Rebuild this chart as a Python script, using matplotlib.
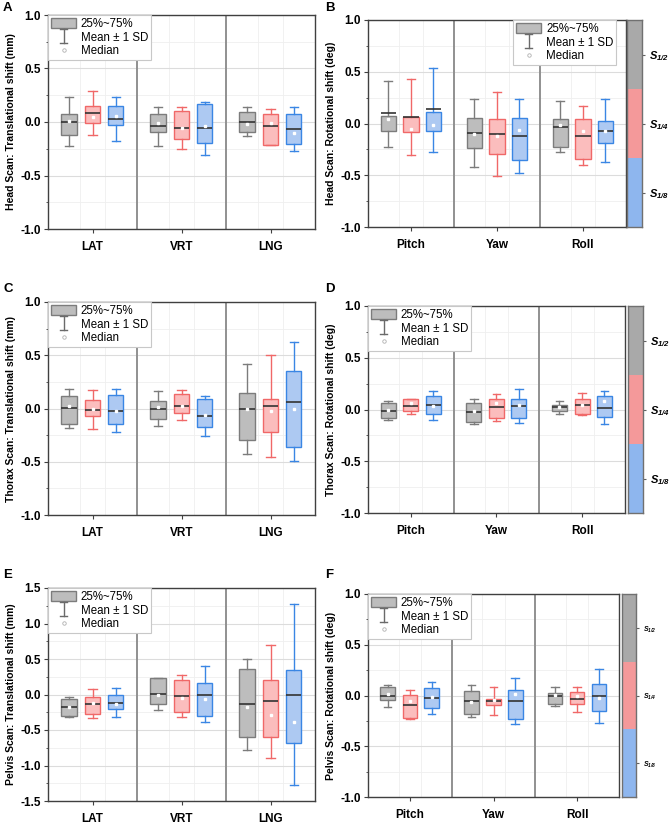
import matplotlib
matplotlib.use('Agg')
import matplotlib.pyplot as plt
from matplotlib.patches import Patch
from matplotlib.lines import Line2D
from matplotlib.legend_handler import HandlerBase
from matplotlib.ticker import MultipleLocator, FormatStrFormatter

plt.rcParams['font.family'] = ['Liberation Sans', 'DejaVu Sans']
plt.rcParams['mathtext.fontset'] = 'custom'
plt.rcParams['mathtext.rm'] = 'Liberation Sans:bold:italic'
plt.rcParams['mathtext.it'] = 'Liberation Sans:bold:italic'
plt.rcParams['mathtext.bf'] = 'Liberation Sans:bold:italic'

# series: S1/2 (grey), S1/4 (red), S1/8 (blue)
series_names = [r'$S_{1/2}$', r'$S_{1/4}$', r'$S_{1/8}$']
trans_cats = ['LAT', 'VRT', 'LNG']
rot_cats = ['Pitch', 'Yaw', 'Roll']

# rows = series, columns = categories
# A: head scan, translational
a_top = [[0.235, 0.14, 0.14], [0.29, 0.14, 0.126], [0.23, 0.19, 0.14]]
a_q3 = [[0.073, 0.073, 0.089], [0.15, 0.105, 0.073], [0.145, 0.167, 0.079]]
a_mid = [[0.0, -0.042, 0.0], [0.08, -0.055, -0.039], [0.03, -0.052, -0.066]]
a_q1 = [[-0.123, -0.095, -0.096], [-0.01, -0.155, -0.213], [-0.026, -0.197, -0.204]]
a_bot = [[-0.222, -0.224, -0.135], [-0.12, -0.25, -0.213], [-0.18, -0.305, -0.273]]
a_dot = [[0.005, -0.012, -0.015], [0.05, -0.06, -0.006], [0.06, -0.042, -0.102]]

# B: head scan, rotational
b_top = [[0.41, 0.24, 0.216], [0.426, 0.30, 0.168], [0.54, 0.232, 0.24]]
b_q3 = [[0.07, 0.055, 0.045], [0.065, 0.048, 0.039], [0.112, 0.055, 0.023]]
b_mid = [[0.097, -0.09, -0.03], [0.065, -0.103, -0.116], [0.136, -0.12, -0.068]]
b_q1 = [[-0.072, -0.232, -0.226], [-0.08, -0.29, -0.342], [-0.075, -0.348, -0.187]]
b_bot = [[-0.23, -0.416, -0.28], [-0.30, -0.503, -0.397], [-0.275, -0.474, -0.371]]
b_dot = [[0.039, -0.103, -0.013], [-0.055, -0.12, -0.068], [-0.016, -0.061, -0.068]]

# C: thorax scan, translational
c_top = [[0.18, 0.16, 0.414], [0.17, 0.17, 0.505], [0.18, 0.122, 0.62]]
c_q3 = [[0.113, 0.069, 0.141], [0.078, 0.132, 0.085], [0.125, 0.085, 0.348]]
c_mid = [[0.003, -0.006, -0.009], [-0.01, 0.028, 0.022], [-0.019, -0.072, 0.063]]
c_q1 = [[-0.141, -0.097, -0.298], [-0.066, -0.038, -0.216], [-0.15, -0.176, -0.357]]
c_bot = [[-0.179, -0.166, -0.429], [-0.194, -0.11, -0.458], [-0.223, -0.26, -0.492]]
c_dot = [[0.025, 0.013, 0.0], [0.0, 0.028, -0.019], [-0.019, -0.06, 0.0]]

# D: thorax scan, rotational
d_top = [[0.084, 0.097, 0.084], [0.103, 0.152, 0.155], [0.18, 0.194, 0.177]]
d_q3 = [[0.058, 0.058, 0.042], [0.103, 0.106, 0.106], [0.129, 0.097, 0.126]]
d_mid = [[-0.01, -0.026, 0.023], [0.032, 0.023, 0.048], [0.045, 0.029, 0.019]]
d_q1 = [[-0.08, -0.116, -0.013], [-0.013, -0.084, -0.045], [-0.045, -0.084, -0.071]]
d_bot = [[-0.106, -0.142, -0.045], [-0.045, -0.113, -0.055], [-0.097, -0.132, -0.139]]
d_dot = [[0.0, -0.013, 0.02], [0.065, 0.058, 0.048], [0.035, 0.045, 0.081]]

# E: pelvis scan, translational
e_top = [[-0.033, 0.239, 0.50], [0.075, 0.277, 0.693], [0.094, 0.398, 1.27]]
e_q3 = [[-0.061, 0.23, 0.366], [-0.033, 0.211, 0.211], [0.0, 0.155, 0.35]]
e_mid = [[-0.173, 0.009, -0.137], [-0.127, -0.028, -0.098], [-0.113, 0.0, 0.0]]
e_q1 = [[-0.305, -0.131, -0.596], [-0.277, -0.244, -0.60], [-0.211, -0.309, -0.69]]
e_bot = [[-0.314, -0.22, -0.788], [-0.333, -0.323, -0.90], [-0.314, -0.389, -1.276]]
e_dot = [[-0.17, -0.014, -0.174], [-0.117, -0.052, -0.287], [-0.127, -0.066, -0.385]]

# F: pelvis scan, rotational
f_top = [[0.10, 0.104, 0.081], [0.051, 0.081, 0.087], [0.137, 0.17, 0.259]]
f_q3 = [[0.087, 0.044, 0.028], [0.005, -0.035, 0.035], [0.077, 0.051, 0.114]]
f_mid = [[-0.005, -0.058, -0.005], [-0.09, -0.054, -0.035], [-0.028, -0.058, -0.008]]
f_q1 = [[-0.048, -0.183, -0.084], [-0.219, -0.094, -0.084], [-0.127, -0.229, -0.157]]
f_bot = [[-0.11, -0.212, -0.1], [-0.232, -0.193, -0.16], [-0.183, -0.285, -0.275]]
f_dot = [[0.012, -0.064, 0.005], [-0.051, -0.048, 0.0], [-0.012, 0.012, -0.021]]

box_fill = ['#bdbdbd', '#fbbdbd', '#adc9f2']
box_edge = ['#7c7c7c', '#f06868', '#3a86e4']
cbar_cols = ['#a9a9a9', '#f4999a', '#8eb6ee']
offsets = [-0.265, 0.0, 0.26]

W, H = 669, 827


def rect(l, t, r, b):
    return [l / W, 1 - b / H, (r - l) / W, (b - t) / H]


class IBarHandler(HandlerBase):
    def create_artists(self, legend, orig_handle, xdescent, ydescent, width, height, fontsize, trans):
        cx = -xdescent + width * 0.5
        y0 = -ydescent - 0.1 * height
        y1 = -ydescent + 1.3 * height
        cw = width * 0.14
        arts = [Line2D([cx, cx], [y0, y1]), Line2D([cx - cw, cx + cw], [y0, y0]),
                Line2D([cx - cw, cx + cw], [y1, y1])]
        for a in arts:
            a.set_color('#6a6a6a')
            a.set_linewidth(1.0)
            a.set_transform(trans)
        return arts


def draw_panel(ax, cats, top, q3, mid, q1, bot, dot, ylim, ylabel, leg_anchor, leg_loc):
    for s in range(3):
        stats = []
        for c in range(3):
            stats.append(dict(med=mid[s][c], q1=q1[s][c], q3=q3[s][c], whislo=bot[s][c],
                              whishi=top[s][c], mean=dot[s][c], fliers=[]))
        pos = [c + 0.5 + offsets[s] for c in range(3)]
        ax.bxp(stats, positions=pos, widths=0.175, capwidths=0.09, patch_artist=True,
               showmeans=True, showfliers=False, manage_ticks=False,
               boxprops=dict(facecolor=box_fill[s], edgecolor=box_edge[s], linewidth=1.0),
               whiskerprops=dict(color=box_edge[s], linewidth=1.0),
               capprops=dict(color=box_edge[s], linewidth=1.0),
               medianprops=dict(color='#333333', linewidth=1.2),
               meanprops=dict(marker='s', markersize=1.6, markerfacecolor='white',
                              markeredgecolor='white'),
               zorder=3)

    for x in [1, 2]:
        ax.axvline(x, color='#909090', lw=1.4, zorder=2)

    ax.set_xlim(0, 3)
    ax.set_ylim(*ylim)
    ax.set_xticks([0.5, 1.5, 2.5])
    ax.set_xticklabels(cats, fontweight='bold', fontsize=8.5)
    ax.set_xticks([c + 0.5 + d for c in range(3) for d in (-0.135, 0.135)], minor=True)
    ax.yaxis.set_major_locator(MultipleLocator(0.5))
    ax.yaxis.set_minor_locator(MultipleLocator(0.25))
    ax.yaxis.set_major_formatter(FormatStrFormatter('%.1f'))
    for lab in ax.get_yticklabels():
        lab.set_fontweight('bold')
        lab.set_fontsize(8.5)
    ax.grid(True, which='major', axis='y', color='#dcdcdc', lw=0.8, zorder=0)
    ax.grid(True, which='minor', axis='y', color='#efefef', lw=0.6, zorder=0)
    ax.grid(True, which='minor', axis='x', color='#efefef', lw=0.6, zorder=0)
    ax.set_axisbelow(True)
    ax.tick_params(axis='x', which='major', length=3, direction='out', pad=6, color='#404040')
    ax.tick_params(axis='x', which='minor', length=0)
    ax.tick_params(axis='y', which='major', length=3, direction='out', pad=2, color='#404040')
    ax.tick_params(axis='y', which='minor', length=1.5, direction='out', color='#404040')
    for sp in ax.spines.values():
        sp.set_color('#404040')
        sp.set_linewidth(1.0)
    ax.set_ylabel(ylabel, fontweight='bold', fontsize=7.5, labelpad=3)

    handles = [Patch(facecolor='#bdbdbd', edgecolor='#7c7c7c', lw=1.0), 'ibar',
               Line2D([], [], ls='none', marker='o', markersize=2.5, markerfacecolor='white',
                      markeredgecolor='#b0b0b0', markeredgewidth=0.6)]
    leg = ax.legend(handles, ['25%~75%', 'Mean \u00b1 1 SD', 'Median'], loc=leg_loc,
                    bbox_to_anchor=leg_anchor, fontsize=8.3, frameon=True, fancybox=False,
                    framealpha=1, edgecolor='#c8c8c8', borderaxespad=0, borderpad=0.25,
                    labelspacing=0.15, handlelength=2.2, handleheight=0.95, handletextpad=0.4,
                    handler_map={str: IBarHandler()})
    leg.get_frame().set_linewidth(0.8)
    leg.set_zorder(5)


def draw_cbar(cax, fs):
    for i in range(3):
        cax.axhspan(2 - i, 3 - i, color=cbar_cols[i], lw=0)
    cax.set_ylim(0, 3)
    cax.set_xlim(0, 1)
    cax.set_xticks([])
    cax.yaxis.tick_right()
    cax.set_yticks([2.5, 1.5, 0.5])
    cax.set_yticklabels(series_names, fontsize=fs)
    cax.tick_params(axis='y', length=2.5, pad=2.5, color='#606060')
    for sp in cax.spines.values():
        sp.set_color('#707070')
        sp.set_linewidth(1.0)


fig = plt.figure(figsize=(W / 100, H / 100), dpi=100)

ax_a = fig.add_axes(rect(48, 15, 315, 229))
ax_b = fig.add_axes(rect(368, 20, 626, 227))
cb_b = fig.add_axes(rect(627, 20, 642, 227))
ax_c = fig.add_axes(rect(48, 302, 315, 515))
ax_d = fig.add_axes(rect(368, 306, 625, 513))
cb_d = fig.add_axes(rect(628, 306, 643, 513))
ax_e = fig.add_axes(rect(48, 588, 315, 801))
ax_f = fig.add_axes(rect(368, 594, 619, 797))
cb_f = fig.add_axes(rect(622, 594, 636, 797))

draw_panel(ax_a, trans_cats, a_top, a_q3, a_mid, a_q1, a_bot, a_dot, (-1, 1),
           'Head Scan: Translational shift (mm)', (0, 1), 'upper left')
draw_panel(ax_b, rot_cats, b_top, b_q3, b_mid, b_q1, b_bot, b_dot, (-1, 1),
           'Head Scan: Rotational shift (deg)', (0.962, 1), 'upper right')
draw_panel(ax_c, trans_cats, c_top, c_q3, c_mid, c_q1, c_bot, c_dot, (-1, 1),
           'Thorax Scan: Translational shift (mm)', (0, 1), 'upper left')
draw_panel(ax_d, rot_cats, d_top, d_q3, d_mid, d_q1, d_bot, d_dot, (-1, 1),
           'Thorax Scan: Rotational shift (deg)', (0, 1), 'upper left')
draw_panel(ax_e, trans_cats, e_top, e_q3, e_mid, e_q1, e_bot, e_dot, (-1.5, 1.5),
           'Pelvis Scan: Translational shift (mm)', (0, 1), 'upper left')
draw_panel(ax_f, rot_cats, f_top, f_q3, f_mid, f_q1, f_bot, f_dot, (-1, 1),
           'Pelvis Scan: Rotational shift (deg)', (0, 1), 'upper left')

draw_cbar(cb_b, 8)
draw_cbar(cb_d, 8)
draw_cbar(cb_f, 5)

for lab, x, y in [('A', 3, 8), ('B', 325, 8), ('C', 3, 289), ('D', 325, 289),
                  ('E', 3, 575), ('F', 325, 575)]:
    fig.text(x / W, 1 - y / H, lab, fontsize=9.5, fontweight='bold', ha='left', va='center')

fig.savefig('out.png', dpi=100)
